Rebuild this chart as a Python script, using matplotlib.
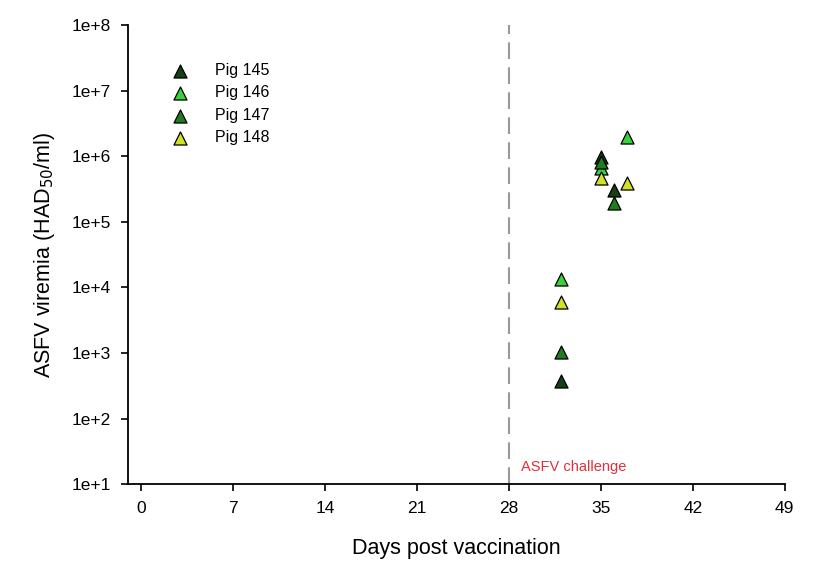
import numpy as np
from matplotlib import pyplot as plt
from matplotlib.ticker import FixedLocator, FuncFormatter

plt.rcParams['font.family'] = ['Liberation Sans', 'DejaVu Sans']

# days post vaccination and viremia (HAD50/ml) per pig
pig145_days = [32, 35, 36]
pig145_vals = [3.8e2, 9.7e5, 3.05e5]
pig146_days = [32, 35, 37]
pig146_vals = [1.33e4, 6.6e5, 1.96e6]
pig147_days = [32, 35, 36]
pig147_vals = [1.03e3, 8.1e5, 1.93e5]
pig148_days = [32, 35, 37]
pig148_vals = [6.1e3, 4.6e5, 3.9e5]

pig_names = ["Pig 145", "Pig 146", "Pig 147", "Pig 148"]
pig_colors = ["#163f16", "#3ccf3c", "#1f7d1f", "#d2e028"]

challenge_day = 28
x_ticks = [0, 7, 14, 21, 28, 35, 42, 49]
y_ticks = [1e1, 1e2, 1e3, 1e4, 1e5, 1e6, 1e7, 1e8]

fig = plt.figure(figsize=(8.2, 5.61), dpi=100)
ax = fig.add_axes([0.156, 0.137, 0.801, 0.818])

series = [(pig145_days, pig145_vals), (pig146_days, pig146_vals),
          (pig147_days, pig147_vals), (pig148_days, pig148_vals)]
for (d, v), name, c in zip(series, pig_names, pig_colors):
    ax.scatter(d, v, marker='^', s=88, color=c, edgecolor='black',
               linewidth=0.9, label=name, zorder=3)

ax.axvline(challenge_day, color='#999999', linestyle=(0, (8, 4)), linewidth=1.5, zorder=1)
ax.text(challenge_day + 0.95, 10**1.26, "ASFV challenge", color='#e0303a',
        fontsize=10.5, va='center', ha='left')

ax.set_yscale('log')
ax.set_xlim(-1, 49)
ax.set_ylim(1e1, 1e8)
ax.xaxis.set_major_locator(FixedLocator(x_ticks))
ax.yaxis.set_major_locator(FixedLocator(y_ticks))
ax.yaxis.set_minor_locator(FixedLocator([]))
ax.yaxis.set_major_formatter(FuncFormatter(lambda v, p: "1e+%d" % round(np.log10(v))))

for s in ['top', 'right']:
    ax.spines[s].set_visible(False)
for s in ['left', 'bottom']:
    ax.spines[s].set_linewidth(1.3)
ax.tick_params(direction='out', length=5, width=1.2, labelsize=12.5, pad=7)

ax.set_xlabel("Days post vaccination", fontsize=15.5, labelpad=16)
ax.set_ylabel("ASFV viremia (HAD$_{50}$/ml)", fontsize=15.5, labelpad=11)

ax.legend(loc='upper left', bbox_to_anchor=(0.045, 0.932), frameon=False,
          fontsize=11.5, handletextpad=1.2, labelspacing=0.47, borderaxespad=0)

fig.savefig("out.png", dpi=100)
